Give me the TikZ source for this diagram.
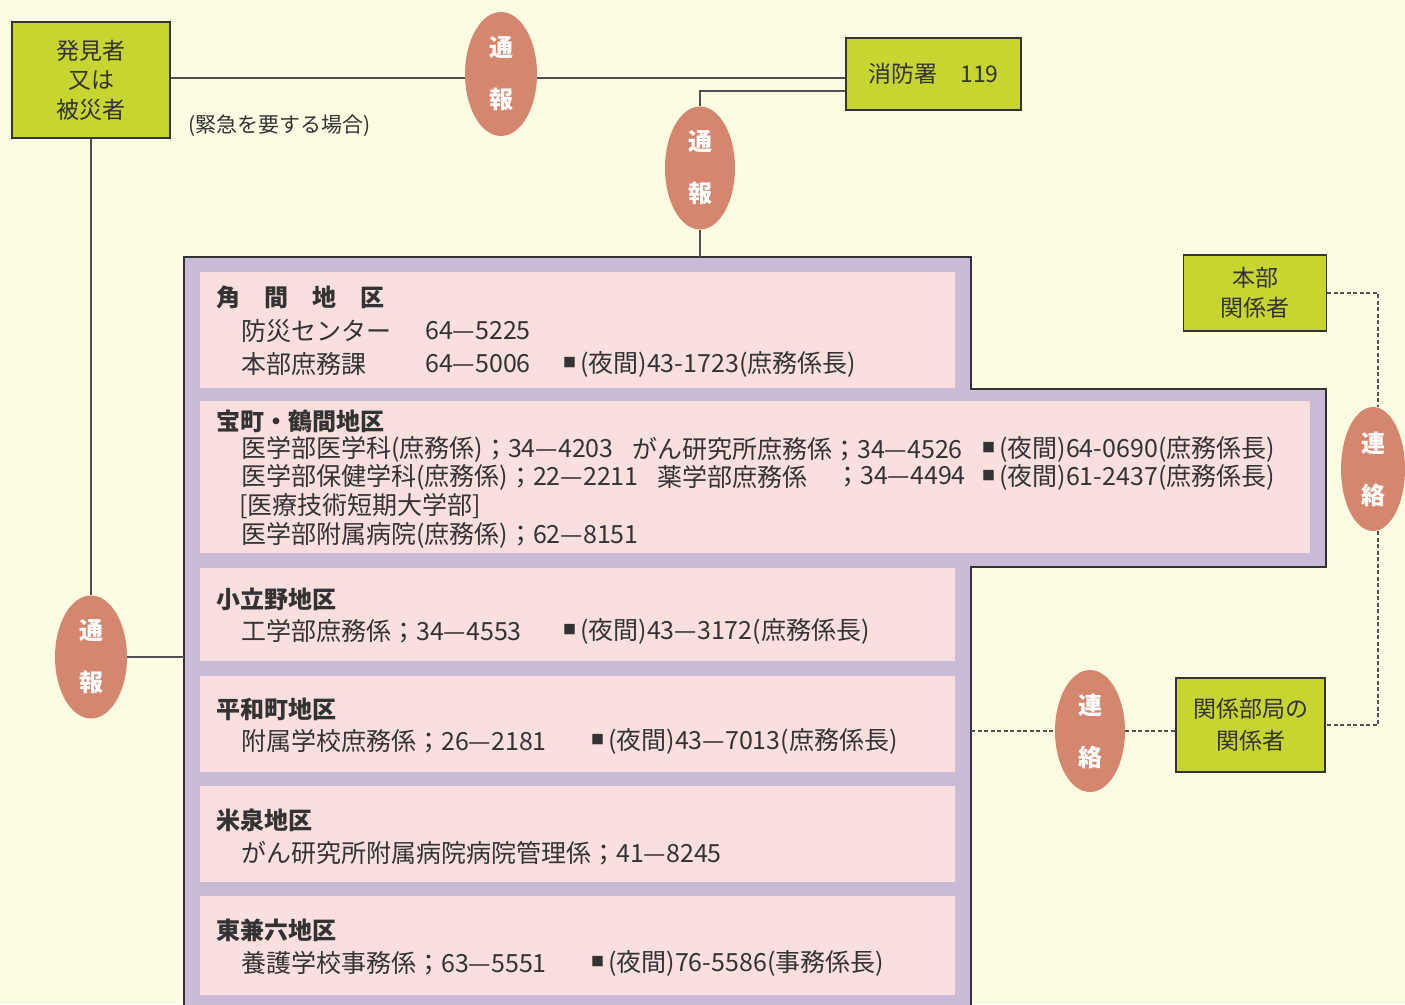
\documentclass[tikz,border=0pt]{standalone}
\usepackage{fontspec}
\setmainfont{Noto Sans CJK JP}
\usetikzlibrary{shapes.geometric}
\definecolor{bg}{HTML}{FBFCE1}
\definecolor{grn}{HTML}{C6D530}
\definecolor{sal}{HTML}{D5866F}
\definecolor{lav}{HTML}{C9BAD8}
\definecolor{pnk}{HTML}{F9E0DE}
\definecolor{ink}{HTML}{333333}
\definecolor{lin}{HTML}{505050}
\newcommand\myfs[2]{\fontsize{#1}{#2}\selectfont}
\newcommand\sqmark{\raisebox{5pt}{\myfs{13}{13}■}\hspace{4pt}}
\begin{document}
\begin{tikzpicture}[x=1pt,y=-1pt,
  gbox/.style={draw=ink, line width=1.8pt, fill=grn, text=ink, align=center, inner sep=0pt},
  oval/.style={ellipse, fill=sal, text=white, font=\myfs{24}{52}\bfseries, align=center, inner sep=0pt},
  conn/.style={draw=lin, line width=1.3pt},
  dconn/.style={draw=lin, line width=1.1pt, dash pattern=on 4pt off 2.5pt},
  head/.style={anchor=west, font=\myfs{24}{24}\bfseries, text=ink, inner sep=0pt},
  txt/.style={anchor=west, font=\myfs{25}{25}, text=ink, inner sep=0pt},
  panel/.style={fill=pnk}
]
\path[use as bounding box] (0,0) rectangle (1405,1004);
\clip (0,0) rectangle (1405,1004);
\fill[bg] (0,0) rectangle (1405,1004);

% frame
\draw[draw=ink, line width=2.2pt, fill=lav] (184,1030) -- (184,257) -- (971,257) -- (971,389) -- (1326,389) -- (1326,567) -- (971,567) -- (971,1030);
\coordinate (ftop) at (700,257);
\coordinate (fleft) at (184,657);
\coordinate (fright) at (971,731);
\fill[panel] (200,272) rectangle (955,388);
\fill[panel] (200,401) rectangle (1310,553);
\fill[panel] (200,568) rectangle (955,661);
\fill[panel] (200,676) rectangle (955,772);
\fill[panel] (200,786) rectangle (955,882);
\fill[panel] (200,896) rectangle (955,995);

% boxes
\node[gbox, minimum width=158, minimum height=116, font=\myfs{23}{29.5}] (finder) at (91,80) {発見者\\又は\\被災者};
\node[gbox, minimum width=175, minimum height=72, font=\myfs{23}{23}] (fire) at (933.5,74) {消防署　119};
\node[gbox, minimum width=143, minimum height=76, font=\myfs{23}{30}] (hq) at (1255,293) {本部\\関係者};
\node[gbox, minimum width=149, minimum height=94, font=\myfs{23}{32}] (dept) at (1250.5,725) {関係部局の\\関係者};
\node[anchor=west, inner sep=0pt, text=ink, font=\myfs{21}{21}] (note) at (188,126) {(緊急を要する場合)};

% ovals
\node[oval, minimum width=72, minimum height=124] (e1) at (501,74) {通\\報};
\node[oval, minimum width=70, minimum height=123] (e2) at (700,168) {通\\報};
\node[oval, minimum width=72, minimum height=123] (e3) at (91,657) {通\\報};
\node[oval, minimum width=64, minimum height=124] (e4) at (1373,469) {連\\絡};
\node[oval, minimum width=70, minimum height=122] (e5) at (1090,731) {連\\絡};

% connectors
\coordinate (y78) at (0,78);
\coordinate (y91) at (0,91);
\coordinate (x1378) at (1378,0);
\draw[conn] (finder.east |- y78) -- (e1.west |- y78);
\draw[conn] (e1.east |- y78) -- (fire.west |- y78);
\draw[conn] (fire.west |- y91) -- (e2.north |- y91) -- (e2.north);
\draw[conn] (e2.south) -- (ftop);
\draw[conn] (finder.south) -- (e3.north);
\draw[conn] (e3.east) -- (fleft);
\draw[dconn] (hq.east) -- (hq.east -| x1378) -- (x1378 |- e4.north);
\draw[dconn] (x1378 |- e4.south) -- (x1378 |- dept.east) -- (dept.east);
\draw[dconn] (fright) -- (e5.west);
\draw[dconn] (e5.east) -- (dept.west |- e5.east);

% panel 1
\node[head] (h1) at (216,297) {角　間　地　区};
\node[txt] (a1) at (241,331) {防災センター};
\node[txt] (a2) at (425,331) {64—5225};
\node[txt] (a3) at (241,364) {本部庶務課};
\node[txt] (a4) at (425,364) {64—5006};
\node[txt] (a5) at (563,364) {\sqmark(夜間)43-1723(庶務係長)};
% panel 2
\node[head] (h2) at (216,421) {宝町・鶴間地区};
\node[txt] (b1) at (241,449) {医学部医学科(庶務係)；34—4203};
\node[txt] (b2) at (632,449) {がん研究所庶務係；34—4526};
\node[txt] (b3) at (982,449) {\sqmark(夜間)64-0690(庶務係長)};
\node[txt] (b4) at (241,477) {医学部保健学科(庶務係)；22—2211};
\node[txt] (b5) at (657,477) {薬学部庶務係};
\node[txt] (b6) at (835,477) {；34—4494};
\node[txt] (b7) at (982,477) {\sqmark(夜間)61-2437(庶務係長)};
\node[txt] (b8) at (239,506) {[医療技術短期大学部]};
\node[txt] (b9) at (241,535) {医学部附属病院(庶務係)；62—8151};
% panel 3
\node[head] (h3) at (216,599) {小立野地区};
\node[txt] (c1) at (241,631) {工学部庶務係；34—4553};
\node[txt] (c2) at (563,631) {\sqmark(夜間)43—3172(庶務係長)};
% panel 4
\node[head] (h4) at (216,709) {平和町地区};
\node[txt] (d1) at (241,741) {附属学校庶務係；26—2181};
\node[txt] (d2) at (591,741) {\sqmark(夜間)43—7013(庶務係長)};
% panel 5
\node[head] (h5) at (216,820) {米泉地区};
\node[txt] (f1) at (241,853) {がん研究所附属病院病院管理係；41—8245};
% panel 6
\node[head] (h6) at (216,930) {東兼六地区};
\node[txt] (g1) at (241,963) {養護学校事務係；63—5551};
\node[txt] (g2) at (591,963) {\sqmark(夜間)76-5586(事務係長)};
\end{tikzpicture}
\end{document}
